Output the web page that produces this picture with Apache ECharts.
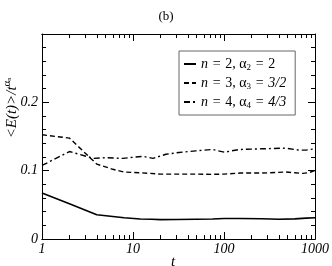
<!DOCTYPE html>
<html><head><meta charset="utf-8">
<script src="https://cdn.jsdelivr.net/npm/echarts@6/dist/echarts.min.js"></script>
<style>html,body{margin:0;padding:0;background:#fff}#c{width:332px;height:266px}</style>
</head><body><div id="c"></div>
<script>
// ---- data ----
var seriesNames = ['n = 2, α₂ = 2', 'n = 3, α₃ = 3/2', 'n = 4, α₄ = 4/3'];
var legendRich = ['{i|n}\u2004=\u20042, α{s|2}\u2004=\u20042', '{i|n}\u2004=\u20043, α{s|3}\u2004=\u2004{i|3/2}', '{i|n}\u2004=\u20044, α{s|4}\u2004=\u2004{i|4/3}'];
var tSolid = [1, 2, 4, 8, 12, 16, 20, 30, 50, 75, 100, 150, 260, 400, 600, 800, 1000];
var vSolid = [0.0672, 0.0516, 0.0355, 0.0310, 0.0293, 0.0288, 0.0283, 0.0285, 0.0290, 0.0292, 0.0300, 0.0300, 0.0297, 0.0290, 0.0295, 0.0305, 0.0310];
var tDashed = [1, 2, 4, 6, 8, 12, 20, 30, 50, 75, 100, 150, 260, 480, 600, 730, 850, 1000];
var vDashed = [0.1525, 0.1477, 0.1096, 0.1020, 0.0980, 0.0970, 0.0950, 0.0950, 0.0950, 0.0946, 0.0950, 0.0965, 0.0965, 0.0980, 0.0970, 0.0960, 0.0970, 0.1003];
var tDashDot = [1, 2, 3.7, 5, 7.7, 12.8, 16.6, 23, 32, 49, 75, 101, 147, 264, 476, 670, 790, 1000];
var vDashDot = [0.1076, 0.1280, 0.1180, 0.1190, 0.1180, 0.1210, 0.1180, 0.1240, 0.1266, 0.1290, 0.1310, 0.1270, 0.1310, 0.1320, 0.1330, 0.1300, 0.1300, 0.1320];
var xMajor = [1, 10, 100, 1000];
var xMinor = [2,3,4,5,6,7,8,9,20,30,40,50,60,70,80,90,200,300,400,500,600,700,800,900];
var yTickLabels = [0, 0.1, 0.2];

function pairs(t, v) { return t.map(function (x, i) { return [x, v[i]]; }); }

var serif = 'Liberation Serif';
var chart = echarts.init(document.getElementById('c'));

function xAx(pos, ticks, len, labels) {
  return {
    type: 'log', logBase: 10, min: 1, max: 1000, position: pos, gridIndex: 0,
    axisLine: { show: true, lineStyle: { color: '#000', width: 1 } },
    axisTick: { show: true, inside: true, length: len, customValues: ticks, lineStyle: { color: '#000' } },
    axisLabel: labels ? { show: true, customValues: xMajor, fontFamily: serif, fontStyle: 'italic', fontSize: 14, color: '#000', margin: 3,
      formatter: function (v) { return String(Math.round(v)); } } : { show: false },
    splitLine: { show: false }, minorTick: { show: false }
  };
}
function yAx(pos, labels) {
  return {
    type: 'value', min: 0, max: 0.3, interval: 0.1, position: pos,
    axisLine: { show: true, lineStyle: { color: '#000', width: 1 } },
    axisTick: { show: true, inside: true, length: 7, lineStyle: { color: '#000' } },
    minorTick: { show: true, splitNumber: 5, length: 4, lineStyle: { color: '#000' } },
    axisLabel: labels ? { show: true, fontFamily: serif, fontStyle: 'italic', fontSize: 14, color: '#000', margin: 4,
      formatter: function (v) { return yTickLabels.indexOf(Math.round(v * 10) / 10) >= 0 ? String(Math.round(v * 10) / 10) : ''; } } : { show: false },
    splitLine: { show: false }
  };
}

var option = {
  animation: false,
  backgroundColor: '#fff',
  title: { text: '(b)', left: 'center', top: 5, textStyle: { fontFamily: serif, fontWeight: 'normal', fontSize: 13, color: '#000' } },
  grid: { left: 42, right: 16, top: 34, bottom: 27 },
  xAxis: [xAx('bottom', xMajor, 7, true), xAx('bottom', xMinor, 4, false), xAx('top', xMajor, 7, false), xAx('top', xMinor, 4, false)],
  yAxis: [yAx('left', true), yAx('right', false)],
  legend: {
    orient: 'vertical', left: 179, top: 51,
    backgroundColor: '#fff', borderColor: '#666', borderWidth: 1,
    padding: [4, 9, 4, 4], itemGap: 1, itemWidth: 12, itemHeight: 10,
    itemStyle: { opacity: 0 },
    data: seriesNames,
    formatter: function (name) { return legendRich[seriesNames.indexOf(name)]; },
    textStyle: { fontFamily: serif, fontSize: 14, color: '#000', lineHeight: 18,
      rich: { i: { fontFamily: serif, fontStyle: 'italic', fontSize: 14, lineHeight: 18 },
              s: { fontFamily: serif, fontSize: 9, padding: [7, 0, 0, 0] } } }
  },
  graphic: [
    { type: 'text', x: 12, y: 108, rotation: Math.PI / 2, style: {
      text: '{a|<E(t)>/t}{b|α}{c|n}', align: 'center', verticalAlign: 'middle',
      rich: { a: { fontFamily: serif, fontStyle: 'italic', fontSize: 15, fill: '#000' },
              b: { fontFamily: serif, fontSize: 11, fill: '#000', padding: [0, 0, 9, 0] },
              c: { fontFamily: serif, fontSize: 6, fill: '#000', padding: [0, 0, 5, 0] } } } },
    { type: 'text', left: 171, top: 255, style: { text: 't', fontFamily: serif, fontStyle: 'italic', fontSize: 15, fill: '#000' } }
  ],
  series: [
    { name: seriesNames[0], type: 'line', xAxisIndex: 0, yAxisIndex: 0, data: pairs(tSolid, vSolid), symbol: 'none',
      lineStyle: { color: '#000', width: 1.6, type: 'solid' }, itemStyle: { color: '#000' } },
    { name: seriesNames[1], type: 'line', xAxisIndex: 0, yAxisIndex: 0, data: pairs(tDashed, vDashed), symbol: 'none',
      lineStyle: { color: '#000', width: 1.4, type: [5, 3] }, itemStyle: { color: '#000' } },
    { name: seriesNames[2], type: 'line', xAxisIndex: 0, yAxisIndex: 0, data: pairs(tDashDot, vDashDot), symbol: 'none',
      lineStyle: { color: '#000', width: 1.4, type: [6, 3, 2, 3] }, itemStyle: { color: '#000' } }
  ]
};
chart.setOption(option);
</script></body></html>
